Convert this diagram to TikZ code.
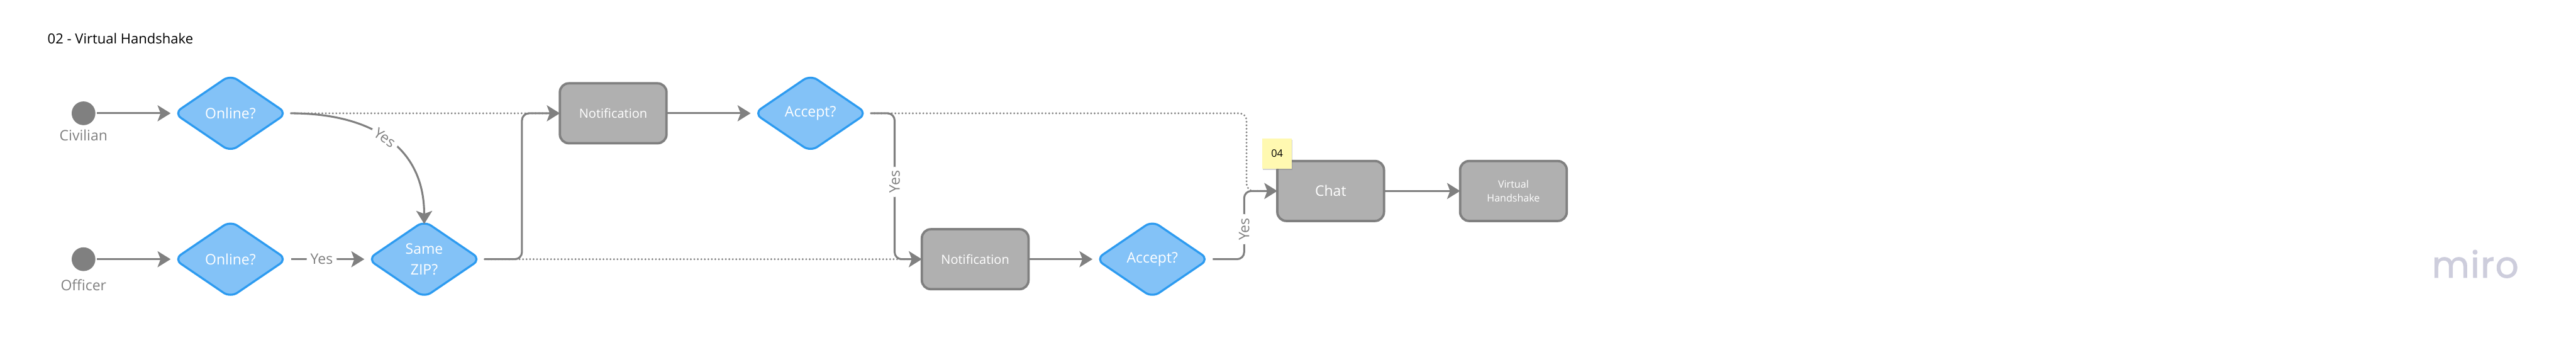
\documentclass[tikz,border=0pt]{standalone}
\usepackage{fontspec}
\setmainfont{Open Sans}
\newfontfamily\logofont[LetterSpace=3,FakeBold=1.5]{Poppins}
\usepackage{xcolor}
\usepackage{tikz}
\usetikzlibrary{
  arrows.meta,
  positioning,
  shapes.geometric,
  calc,
  shadows
}
\definecolor{FigText}{HTML}{808080}
\definecolor{FigLine}{HTML}{808080}
\definecolor{FigBox}{HTML}{B0B0B0}
\definecolor{FigBlue}{HTML}{83C2F7}
\definecolor{FigBlueEdge}{HTML}{2D9BF0}
\definecolor{FigSticky}{HTML}{FFF9B1}
\definecolor{FigLogo}{HTML}{CDCDDC}

\begin{document}
\begin{tikzpicture}[
font=\fontsize{13.9}{19.9}\selectfont,
>={Stealth[length=0.44cm,width=0.54cm,inset=0.1cm]},
actor/.style={
circle,
fill=FigLine,
minimum size=0.8cm,
inner sep=0pt,
outer sep=0pt
},
actorlabel/.style={
text=FigText,
inner sep=0pt
},
decision/.style={
diamond,
draw=FigBlueEdge,
line width=0.07cm,
rounded corners=0.28cm,
fill=FigBlue,
minimum width=3.8cm,
minimum height=2.58cm,
inner sep=0pt,
outer sep=0pt,
align=center,
text=white
},
stepbox/.style={
draw=FigLine,
line width=0.08cm,
rounded corners=0.3cm,
fill=FigBox,
minimum width=3.6cm,
minimum height=2.02cm,
inner sep=0pt,
outer sep=0pt,
align=center,
text=white
},
flow/.style={
->,
draw=FigLine,
line width=0.065cm,
rounded corners=0.24cm
},
dotline/.style={
draw=FigLine,
line width=0.068cm,
line cap=round,
dash pattern=on 0pt off 0.118cm,
rounded corners=0.24cm
},
yeslabel/.style={
fill=white,
text=FigText,
inner xsep=0.13cm,
inner ysep=0.02cm
},
fromdiamond/.style={shorten <=0.14cm},
todiamond/.style={shorten >=0.12cm}
]
\useasboundingbox (0,0) rectangle (86.96,-11.46);

% Title and logo
\node[anchor=west, inner sep=0pt, text=black, font=\fontsize{13.3}{16}\selectfont] (title) at (1.6,-1.3) {02 - Virtual Handshake};
\node[text=FigLogo, inner sep=0pt, font=\logofont\fontsize{35}{40}\selectfont] (logo) at (83.56,-8.9) {miro};

% Upper row
\node[actor] (civ) at (2.82,-3.82) {};
\node[actorlabel, below=0.14cm of civ] (civlabel) {Civilian};
\node[decision, right=2.66cm of civ] (online1) {Online?};
\node[stepbox, right=9.22cm of online1, font=\fontsize{12.1}{16}\selectfont] (note1) {Notification};
\node[decision, right=2.96cm of note1] (accept1) {Accept?};

% Lower row
\node[actor, below=4.12cm of civ] (off) {};
\node[actorlabel, below=0.28cm of off] (offlabel) {Officer};
\node[decision, below=2.34cm of online1] (online2) {Online?};
\node[decision, right=2.74cm of online2] (zip) {Same\\ZIP?};
\node[stepbox, right=14.90cm of zip, font=\fontsize{12.1}{16}\selectfont] (note2) {Notification};
\node[decision, right=2.28cm of note2] (accept2) {Accept?};

% Chat sits between the rows
\node[stepbox, right=2.32cm of accept2, yshift=2.30cm] (chat) {Chat};
\node[stepbox, right=2.57cm of chat, font=\fontsize{9.7}{13.66}\selectfont] (vh) {Virtual\\Handshake};
\node[fill=FigSticky, minimum width=1cm, minimum height=1.02cm, inner sep=0pt, anchor=south east, text=black,
font=\fontsize{9.9}{12}\selectfont, drop shadow={shadow xshift=0.02cm, shadow yshift=-0.05cm, opacity=0.35}] (sticky)
at ($(chat.north west)+(0.5,-0.26)$) {04};

% Dotted "no" routes
\draw[dotline] (online1.east) [shorten <=0.14cm] -- (note1.west);
\draw[dotline] (zip.east) [shorten <=0.14cm] -- (note2.west);
\draw[dotline] (accept1.east) [shorten <=0.14cm] -| ($(chat.west)+(-1.04,0)$) -- (chat.west);

% Solid routes
\draw[flow, todiamond, shorten <=0.06cm] (civ) -- (online1);
\draw[flow, todiamond, shorten <=0.06cm] (off) -- (online2);
\draw[flow, fromdiamond, shorten >=-0.1cm] (online1.east) to[out=0, in=90, looseness=1.15] node[yeslabel, sloped] (yes1) {Yes} (zip.north);
\draw[flow, fromdiamond, todiamond] (online2) -- node[yeslabel, pos=0.43] (yes2) {Yes} (zip);
\draw[flow, fromdiamond] (zip.east) -| ($(note1.west)+(-1.28,0)$) -- (note1.west);
\draw[flow, todiamond] (note1) -- (accept1);
\draw[flow, fromdiamond] (accept1.east) -| node[yeslabel, pos=0.735, rotate=90] (yes3) {Yes} ($(note2.west)+(-0.92,0)$) -- (note2.west);
\draw[flow, todiamond] (note2) -- (accept2);
\draw[flow, fromdiamond] (accept2.east) -| node[yeslabel, pos=0.72, rotate=90] (yes4) {Yes} ($(chat.west)+(-1.12,0)$) -- (chat.west);
\draw[flow] (chat) -- (vh);

\end{tikzpicture}
\end{document}
